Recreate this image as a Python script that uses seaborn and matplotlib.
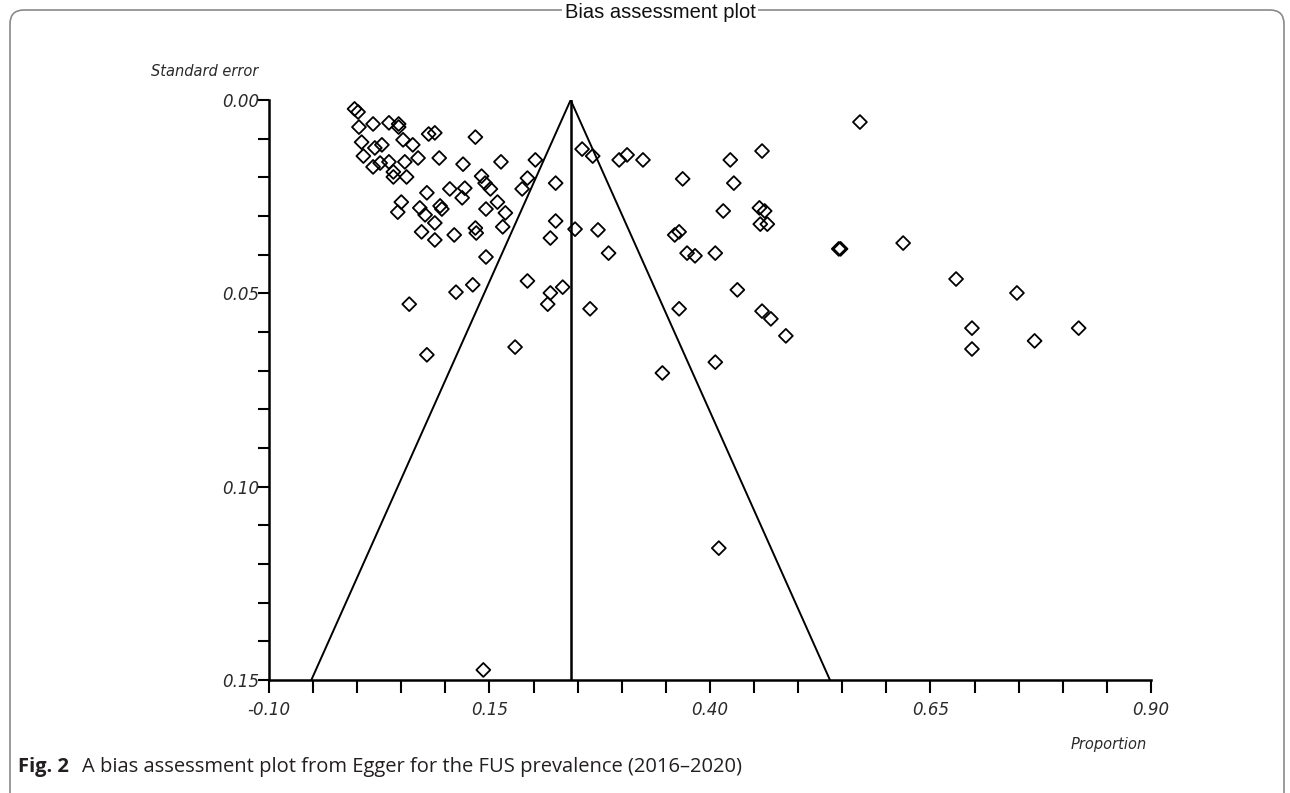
import numpy as np
import pandas as pd
import matplotlib
matplotlib.use("Agg")
import matplotlib.pyplot as plt
import seaborn as sns
from matplotlib.patches import FancyBboxPatch
from matplotlib.transforms import IdentityTransform
from matplotlib.ticker import FixedLocator, FixedFormatter, MultipleLocator

# ---------------- data ----------------
proportion = [
    -0.003, 0.001, 0.002, 0.018, 0.036, 0.047, 0.047, 0.081, 0.088, 0.134,
    0.005, 0.020, 0.028, 0.052, 0.063, 0.007, 0.018, 0.026, 0.036, 0.054,
    0.069, 0.093, 0.120, 0.041, 0.041, 0.056, 0.163, 0.202, 0.193, 0.225,
    0.145, 0.151, 0.187, 0.079, 0.105, 0.122, 0.119, 0.050, 0.046, 0.071,
    0.077, 0.094, 0.096, 0.146, 0.159, 0.168, 0.088, 0.073, 0.088, 0.110,
    0.134, 0.135, 0.165, 0.225, 0.219, 0.247, 0.146, 0.193, 0.131, 0.112,
    0.219, 0.233, 0.216, 0.059, 0.079, 0.179, 0.143, 0.141,
    0.255, 0.267, 0.297, 0.306, 0.324, 0.423, 0.459, 0.570, 0.369, 0.427,
    0.415, 0.456, 0.462, 0.457, 0.465, 0.273, 0.360, 0.365, 0.285, 0.374,
    0.383, 0.406, 0.546, 0.548, 0.619, 0.679, 0.748, 0.697, 0.697, 0.768,
    0.818, 0.431, 0.264, 0.365, 0.459, 0.469, 0.486, 0.406, 0.346, 0.410,
]
std_error = [
    0.0023, 0.0031, 0.0070, 0.0062, 0.0059, 0.0062, 0.0070, 0.0088, 0.0085, 0.0096,
    0.0109, 0.0124, 0.0116, 0.0103, 0.0116, 0.0145, 0.0173, 0.0163, 0.0160, 0.0160,
    0.0150, 0.0150, 0.0166, 0.0186, 0.0199, 0.0199, 0.0160, 0.0155, 0.0202, 0.0215,
    0.0215, 0.0230, 0.0230, 0.0240, 0.0230, 0.0228, 0.0253, 0.0264, 0.0290, 0.0279,
    0.0297, 0.0274, 0.0282, 0.0282, 0.0264, 0.0292, 0.0318, 0.0341, 0.0362, 0.0349,
    0.0331, 0.0344, 0.0328, 0.0313, 0.0357, 0.0334, 0.0406, 0.0468, 0.0478, 0.0497,
    0.0499, 0.0484, 0.0528, 0.0528, 0.0659, 0.0639, 0.1474, 0.0197,
    0.0127, 0.0145, 0.0155, 0.0142, 0.0155, 0.0155, 0.0132, 0.0057, 0.0204, 0.0215,
    0.0287, 0.0279, 0.0287, 0.0321, 0.0321, 0.0336, 0.0349, 0.0341, 0.0396, 0.0396,
    0.0403, 0.0396, 0.0385, 0.0385, 0.0370, 0.0463, 0.0499, 0.0590, 0.0644, 0.0623,
    0.0590, 0.0491, 0.0540, 0.0540, 0.0546, 0.0566, 0.0610, 0.0678, 0.0706, 0.1159,
]
pooled_estimate = 0.242
z_value = 1.96
se_max = 0.15

x_ticks = [-0.10, 0.15, 0.40, 0.65, 0.90]
x_tick_labels = ["-0.10", "0.15", "0.40", "0.65", "0.90"]
y_ticks = [0.00, 0.05, 0.10, 0.15]
y_tick_labels = ["0.00", "0.05", "0.10", "0.15"]

title_text = "Bias assessment plot"
y_title = "Standard error"
x_title = "Proportion"
caption_bold = "Fig. 2"
caption_text = "A bias assessment plot from Egger for the FUS prevalence (2016\u20132020)"

# ---------------- figure ----------------
sns.set_theme(style="white")
plt.rcParams['font.family'] = ['Liberation Sans', 'DejaVu Sans']
plt.rcParams['axes.unicode_minus'] = False

W, H = 1290, 793
fig = plt.figure(figsize=(W / 100, H / 100), dpi=100)
fig.patch.set_facecolor("white")

# outer rounded frame of the figure panel
frame = FancyBboxPatch((10, -40), 1274, 793 - 10 + 40, boxstyle="round,pad=0,rounding_size=14",
                       transform=IdentityTransform(), fill=False, edgecolor="#8a8a8a",
                       linewidth=1.2, zorder=0)
fig.patches.append(frame)

ax = fig.add_axes([269 / W, 1 - 680 / H, 882 / W, 580 / H])
ax.set_facecolor("none")

df = pd.DataFrame({"Proportion": proportion, "SE": std_error})
sns.scatterplot(data=df, x="Proportion", y="SE", marker="D", s=50,
                facecolor="none", edgecolor="black", linewidth=1.3, ax=ax, zorder=3)

# funnel (pseudo 95% limits) and pooled line
funnel = pd.DataFrame({
    "x": [pooled_estimate - z_value * se_max, pooled_estimate, pooled_estimate + z_value * se_max],
    "y": [se_max, 0.0, se_max],
})
sns.lineplot(data=funnel, x="x", y="y", sort=False, color="black", linewidth=1.4, ax=ax,
             estimator=None, zorder=2)
vline = pd.DataFrame({"x": [pooled_estimate, pooled_estimate], "y": [0.0, se_max]})
sns.lineplot(data=vline, x="x", y="y", sort=False, color="black", linewidth=1.8, ax=ax,
             estimator=None, zorder=2)

ax.set_xlim(-0.10, 0.90)
ax.set_ylim(0.15, 0.0)
ax.set_xlabel("")
ax.set_ylabel("")

for side in ["top", "right"]:
    ax.spines[side].set_visible(False)
for side in ["left", "bottom"]:
    ax.spines[side].set_color("black")
    ax.spines[side].set_linewidth(1.8)

ax.xaxis.set_major_locator(FixedLocator(x_ticks))
ax.xaxis.set_major_formatter(FixedFormatter(x_tick_labels))
ax.xaxis.set_minor_locator(MultipleLocator(0.05))
ax.yaxis.set_major_locator(FixedLocator(y_ticks))
ax.yaxis.set_major_formatter(FixedFormatter(y_tick_labels))
ax.yaxis.set_minor_locator(MultipleLocator(0.01))
ax.tick_params(which="both", direction="out", length=9, width=1.5, color="black",
               bottom=True, left=True, top=False, right=False)
ax.tick_params(axis="x", which="major", pad=6)
ax.tick_params(axis="y", which="both", length=8)
ax.tick_params(axis="y", which="major", pad=-1)
for lab in ax.get_xticklabels() + ax.get_yticklabels():
    lab.set_fontfamily(["DejaVu Sans"])
    lab.set_fontstyle("italic")
    lab.set_fontsize(12)
    lab.set_color("#2a2a2a")

# titles
fig.text(660 / W, 1 - 13 / H, title_text, ha="center", va="center", fontsize=14.5,
         color="#111111", bbox=dict(facecolor="white", edgecolor="none", pad=2))
fig.text(205 / W, 1 - 72 / H, y_title, ha="center", va="center", fontsize=10.5,
         fontstyle="italic", family=["DejaVu Sans"], color="#2a2a2a")
fig.text(1147 / W, 1 - 745 / H, x_title, ha="right", va="center", fontsize=10.5,
         fontstyle="italic", family=["DejaVu Sans"], color="#2a2a2a")

# caption
fig.text(18 / W, 1 - 767 / H, caption_bold, ha="left", va="center", fontsize=14.5,
         fontweight="bold", family=["Open Sans", "DejaVu Sans"], color="#231f20")
fig.text(82 / W, 1 - 767 / H, caption_text, ha="left", va="center", fontsize=14.5,
         family=["Open Sans", "DejaVu Sans"], color="#231f20")

fig.savefig("out.png", dpi=100, facecolor="white")
